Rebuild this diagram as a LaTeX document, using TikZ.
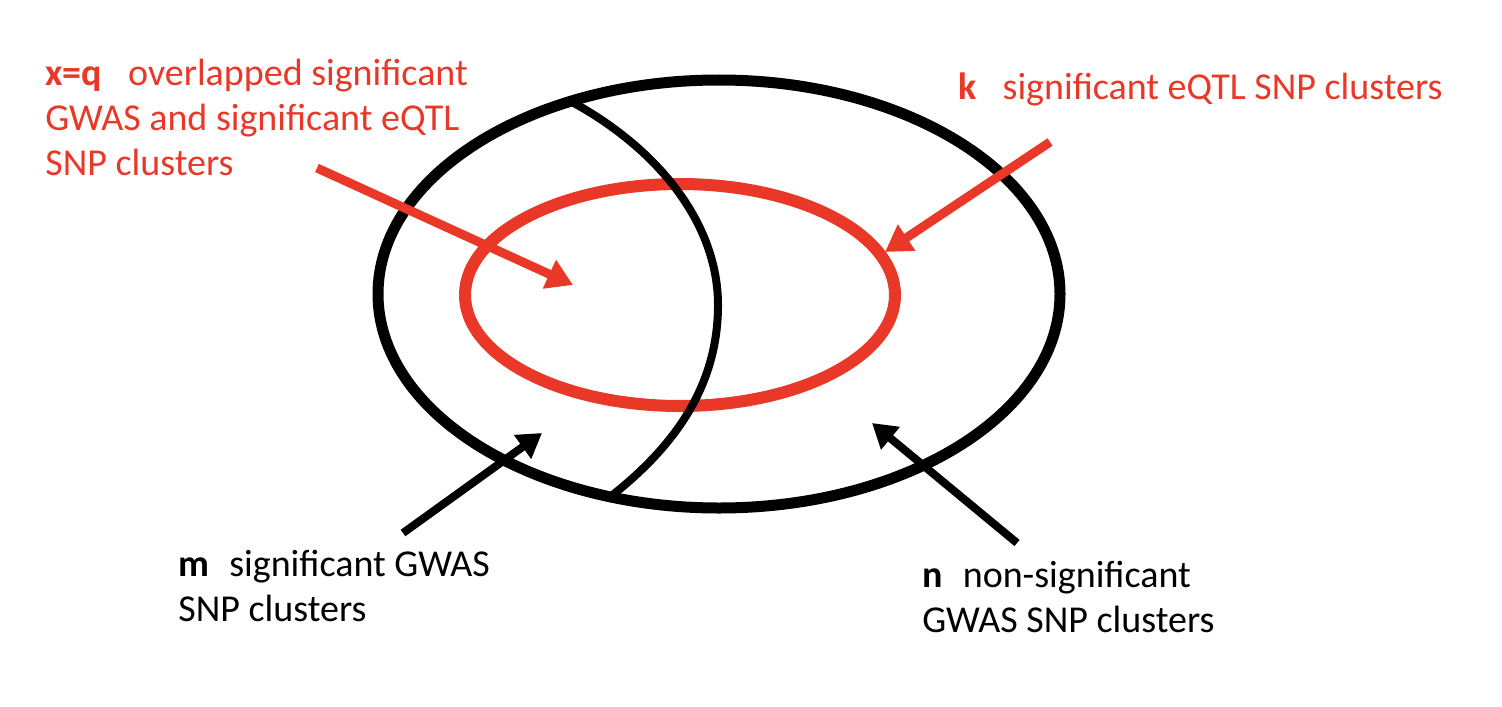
\documentclass[tikz,border=0pt]{standalone}
\usepackage{fontspec}
\setmainfont{Carlito}
\usetikzlibrary{arrows.meta}
\definecolor{sigred}{RGB}{233,55,40}
\tikzstyle{note} = [align=left, anchor=north west, inner sep=0pt,
    font=\fontsize{19}{22.5}\selectfont]
\tikzstyle{redarrow} = [draw=sigred, line width=4.5pt,
    -{Triangle[length=13pt,width=15pt]}]
\tikzstyle{blackarrow} = [draw=black, line width=4pt,
    -{Triangle[length=12pt,width=14pt]}]

\begin{document}
\begin{tikzpicture}[x=0.5pt,y=-0.5pt]
    \useasboundingbox (0,0) rectangle (1502,706);
    % The two sets: all SNP clusters and the eQTL ones
    \draw [line width=5.5pt] (719,294) ellipse [x radius=170.5pt, y radius=107pt];
    \draw [sigred, line width=6pt] (680,295) ellipse [x radius=107.5pt, y radius=55.5pt];
    % border of the significant GWAS part
    \coordinate (arctop) at (572,102);
    \coordinate (arcmid) at (718,305);
    \coordinate (arcbot) at (610,497);
    \draw [line width=4pt] (arctop) .. controls (660,150) and (718,225) .. (arcmid)
        .. controls (718,390) and (670,450) .. (arcbot);

    % The labels
    \node [note, text=sigred] (overlap) at (45,59)
        {\textbf{x=q}\hspace{13pt}overlapped significant\\
         GWAS and significant eQTL\\SNP clusters};
    \node [note, text=sigred] (eqtl) at (958,72)
        {\textbf{k}\hspace{13pt}significant eQTL SNP clusters};
    \node [note] (gwas) at (178,550)
        {\textbf{m}\hspace{10pt}significant GWAS\\SNP clusters};
    \node [note] (nongwas) at (922,561)
        {\textbf{n}\hspace{10pt}non-significant\\GWAS SNP clusters};

    % Arrow ends
    \coordinate (overlap tail) at (317,168);
    \coordinate (overlap tip) at (573,285);
    \coordinate (eqtl tail) at (1050,142);
    \coordinate (eqtl tip) at (885,252);
    \coordinate (gwas tail) at (403,533);
    \coordinate (gwas tip) at (542,433);
    \coordinate (nongwas tail) at (1017,543);
    \coordinate (nongwas tip) at (872,423);

    \draw [redarrow] (overlap tail) -- (overlap tip);
    \draw [redarrow] (eqtl tail) -- (eqtl tip);
    \draw [blackarrow] (gwas tail) -- (gwas tip);
    \draw [blackarrow] (nongwas tail) -- (nongwas tip);
\end{tikzpicture}
\end{document}
